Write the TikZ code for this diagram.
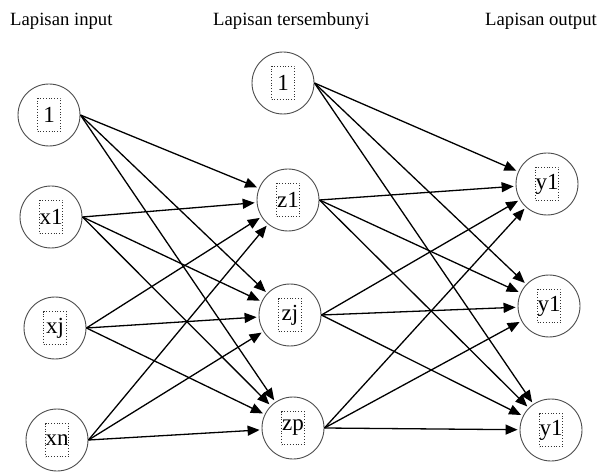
\documentclass[tikz,border=0pt]{standalone}
\usepackage{fontspec}
\setmainfont{Liberation Serif}
\newfontfamily\serifx{Liberation Serif}
\usetikzlibrary{arrows.meta}
\begin{document}
\begin{tikzpicture}[x=1pt,y=-1pt,
  neuron/.style={circle,draw=black!70,line width=0.9pt,minimum size=62pt,inner sep=0pt},
  lbl/.style={draw=black!80,dotted,line width=0.8pt,minimum width=23pt,minimum height=33pt,inner sep=0pt,font=\serifx\fontsize{23}{26}\selectfont},
  ttl/.style={anchor=base west,inner sep=0pt,font=\serifx\fontsize{18.7}{22}\selectfont},
  conn/.style={line width=1.3pt,-{Triangle[length=12pt,width=10pt]},shorten >=2pt}]
\useasboundingbox (0,0) rectangle (600,473);
\fill[white] (0,0) rectangle (600,473);
% titles
\node[ttl] (t1) at (10,26) {Lapisan input};
\node[ttl] (t2) at (213,26) {Lapisan tersembunyi};
\node[ttl] (t3) at (485,26) {Lapisan output};
% input layer
\node[neuron] (i0) at (49,115) {};
\node[neuron] (i1) at (51,217) {};
\node[neuron] (ij) at (55,328) {};
\node[neuron] (in) at (57,440) {};
% hidden layer
\node[neuron] (h0) at (283,83) {};
\node[neuron] (z1) at (288,200) {};
\node[neuron] (zj) at (290,315) {};
\node[neuron] (zp) at (293,428) {};
% output layer
\node[neuron] (ya) at (547,184) {};
\node[neuron] (yb) at (549,306) {};
\node[neuron] (yc) at (551,430) {};
% labels
\node[lbl] (li0) at (i0) {1};
\node[lbl] (li1) at (i1) {x1};
\node[lbl] (lij) at (ij) {xj};
\node[lbl] (lin) at (in) {xn};
\node[lbl] (lh0) at (h0) {1};
\node[lbl] (lz1) at (z1) {z1};
\node[lbl] (lzj) at (zj) {zj};
\node[lbl] (lzp) at (zp) {zp};
\node[lbl] (lya) at (ya) {y1};
\node[lbl] (lyb) at (yb) {y1};
\node[lbl] (lyc) at (yc) {y1};
% connections
\foreach \s in {i0,i1,ij,in}
  \foreach \t in {z1,zj,zp}
    \draw[conn] (\s.east) -- (\t);
\foreach \s in {h0,z1,zj,zp}
  \foreach \t in {ya,yb,yc}
    \draw[conn] (\s.east) -- (\t);
\end{tikzpicture}
\end{document}
